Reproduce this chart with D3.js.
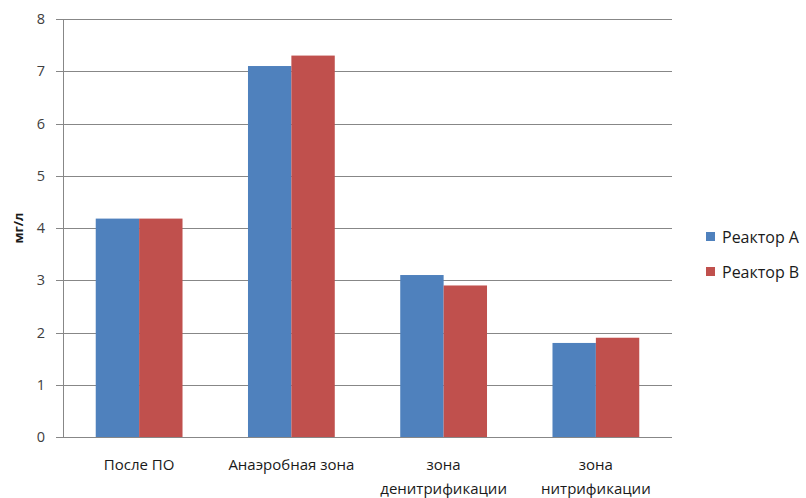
<!DOCTYPE html>
<html><head><meta charset="utf-8">
<script src="https://cdn.jsdelivr.net/npm/d3@7"></script>
<style>body{margin:0;background:#fff;} text{font-family:"Open Sans",sans-serif;}</style>
</head><body><svg id="c" width="806" height="498"></svg>
<script>
const categories = [["После ПО"], ["Анаэробная зона"], ["зона", "денитрификации"], ["зона", "нитрификации"]];
const seriesNames = ["Реактор А", "Реактор В"];
const reactorA = [4.18, 7.1, 3.1, 1.8];
const reactorB = [4.18, 7.3, 2.9, 1.9];
const yTicks = [0,1,2,3,4,5,6,7,8];
const colors = ["#4f81bd", "#c0504d"];

const svg = d3.select("#c");
const m = {left:63, right:134, top:19, bottom:61};
const W = 806, H = 498;
const x = d3.scaleBand().domain(d3.range(categories.length)).range([m.left, W-m.right]).paddingInner(0.43).paddingOuter(0.215);
const x1 = d3.scaleBand().domain([0,1]).range([0, x.bandwidth()]);
const y = d3.scaleLinear().domain([0,8]).range([H-m.bottom, m.top]);

const grid = svg.append("g");
grid.selectAll("line").data(yTicks).join("line")
  .attr("x1", m.left-7).attr("x2", W-m.right)
  .attr("y1", d=>Math.round(y(d))+0.5).attr("y2", d=>Math.round(y(d))+0.5)
  .attr("stroke", "#878787").attr("stroke-width",1);
svg.append("line").attr("x1", m.left+0.5).attr("x2", m.left+0.5).attr("y1", y(8)).attr("y2", y(0)+0.5).attr("stroke","#878787");

svg.append("g").selectAll("text").data(yTicks).join("text")
  .attr("x", 45).attr("y", d=>y(d)+5).attr("text-anchor","end")
  .attr("font-size", 14.5).attr("fill","#404040").text(d=>d);

const data = [reactorA, reactorB];
data.forEach((vals, si) => {
  svg.append("g").selectAll("rect").data(vals).join("rect")
    .attr("x", (d,i)=>x(i)+x1(si)).attr("width", x1.bandwidth())
    .attr("y", d=>y(d)).attr("height", d=>y(0)-y(d))
    .attr("fill", colors[si]);
});

const xl = svg.append("g");
categories.forEach((lines, i) => {
  lines.forEach((t, j) => {
    xl.append("text").attr("x", x(i)+x.bandwidth()/2).attr("y", 470 + j*24)
      .attr("text-anchor","middle").attr("font-size",15).attr("fill","#1a1a1a").text(t);
  });
});

svg.append("text").attr("transform","translate(23,228) rotate(-90)").attr("text-anchor","middle")
  .attr("font-size",13).attr("font-weight","bold").attr("fill","#1a1a1a").text("мг/л");

const lg = svg.append("g");
seriesNames.forEach((n,i)=>{
  lg.append("rect").attr("x",706).attr("y",232+i*35).attr("width",9).attr("height",9).attr("fill",colors[i]);
  lg.append("text").attr("x",722).attr("y",243+i*35).attr("font-size",16).attr("fill","#1a1a1a").text(n);
});
</script></body></html>
